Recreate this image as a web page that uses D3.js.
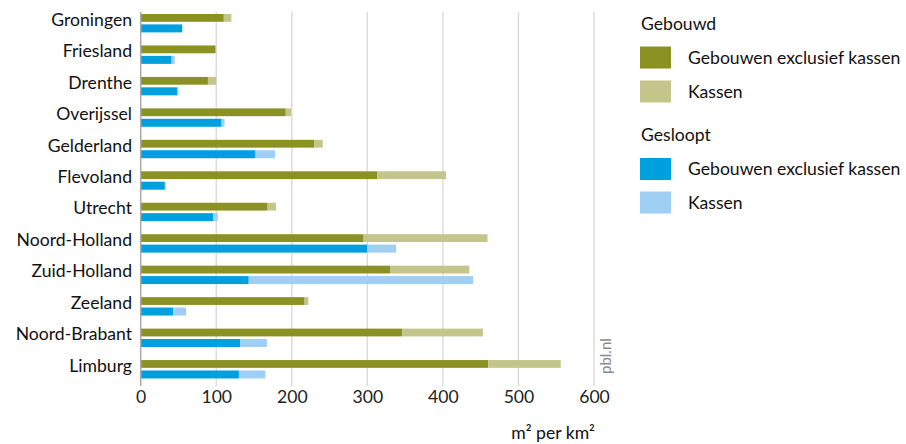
<!DOCTYPE html>
<html>
<head>
<meta charset="utf-8">
<script src="https://cdn.jsdelivr.net/npm/d3@7.9.0/dist/d3.min.js"></script>
<style>
  body { margin: 0; background: #fff; }
  svg { font-family: Lato, "Open Sans", sans-serif; }
</style>
</head>
<body>
<div id="chart"></div>
<script>
const provinces = ["Groningen", "Friesland", "Drenthe", "Overijssel", "Gelderland", "Flevoland",
  "Utrecht", "Noord-Holland", "Zuid-Holland", "Zeeland", "Noord-Brabant", "Limburg"];

// gebouwd (m2 per km2)
const builtExcl   = [110, 99, 89, 192, 230, 313, 168, 295, 330, 217, 346, 460];
const builtKassen = [10, 0, 11, 7, 11, 91, 11, 164, 105, 5, 107, 96];
// gesloopt
const demoExcl    = [55, 41, 48, 107, 152, 32, 96, 300, 143, 43, 132, 130];
const demoKassen  = [0, 4, 2, 4, 26, 1, 6, 38, 297, 17, 35, 35];

const xTicks = [0, 100, 200, 300, 400, 500, 600];

const colors = {
  builtExcl: "#8c9124",
  builtKassen: "#c4c58a",
  demoExcl: "#00a0df",
  demoKassen: "#9fcff3"
};

const fontSize = 17.6;

const width = 906, height = 444;
const svg = d3.select("#chart").append("svg")
  .attr("width", width)
  .attr("height", height);

const x = d3.scaleLinear().domain([0, 600]).range([140.7, 594]);
const y = d3.scaleBand().domain(provinces).range([14, 14 + 12 * 31.46]).padding(0);

const plotTop = 12, plotBottom = 386;

// gridlines
svg.append("g").selectAll("line")
  .data(xTicks.slice(1))
  .join("line")
  .attr("x1", d => x(d)).attr("x2", d => x(d))
  .attr("y1", plotTop).attr("y2", plotBottom)
  .attr("stroke", "#dadada")
  .attr("stroke-width", 1.4);

// tick labels
const xAxis = svg.append("g")
  .attr("transform", `translate(0,${plotBottom})`)
  .call(d3.axisBottom(x).tickValues(xTicks).tickSize(0).tickPadding(5));
xAxis.select(".domain").remove();
xAxis.selectAll("text")
  .attr("font-family", "Lato, 'Open Sans', sans-serif")
  .attr("font-size", fontSize)
  .attr("fill", "#222");

const rows = provinces.map((p, i) => ({
  name: p,
  be: builtExcl[i], bk: builtKassen[i],
  de: demoExcl[i], dk: demoKassen[i]
}));

const barH1 = 7.8, barH2 = 8, gap2 = 10.4;

const g = svg.append("g");
// gebouwd
g.selectAll(".be").data(rows).join("rect")
  .attr("x", x(0)).attr("y", d => y(d.name))
  .attr("width", d => x(d.be) - x(0)).attr("height", barH1)
  .attr("fill", colors.builtExcl);
g.selectAll(".bk").data(rows).join("rect")
  .attr("x", d => x(d.be)).attr("y", d => y(d.name))
  .attr("width", d => x(d.be + d.bk) - x(d.be)).attr("height", barH1)
  .attr("fill", colors.builtKassen);
// gesloopt
g.selectAll(".de").data(rows).join("rect")
  .attr("x", x(0)).attr("y", d => y(d.name) + gap2)
  .attr("width", d => x(d.de) - x(0)).attr("height", barH2)
  .attr("fill", colors.demoExcl);
g.selectAll(".dk").data(rows).join("rect")
  .attr("x", d => x(d.de)).attr("y", d => y(d.name) + gap2)
  .attr("width", d => x(d.de + d.dk) - x(d.de)).attr("height", barH2)
  .attr("fill", colors.demoKassen);

// y axis line
svg.append("line")
  .attr("x1", x(0)).attr("x2", x(0))
  .attr("y1", plotTop).attr("y2", plotBottom)
  .attr("stroke", "#a8a8a8")
  .attr("stroke-width", 1.5);

// province labels
svg.append("g").selectAll("text")
  .data(provinces)
  .join("text")
  .attr("x", 132)
  .attr("y", d => y(d) + 5.5)
  .attr("dy", "0.35em")
  .attr("text-anchor", "end")
  .attr("font-size", fontSize)
  .attr("fill", "#111")
  .text(d => d);

// axis title
svg.append("text")
  .attr("x", 595).attr("y", 433)
  .attr("dy", "0.35em")
  .attr("text-anchor", "end")
  .attr("font-size", fontSize)
  .attr("fill", "#111")
  .text("m² per km²");

// pbl.nl
svg.append("text")
  .attr("transform", "translate(611,374) rotate(-90)")
  .attr("font-size", 15)
  .attr("fill", "#8a8a8a")
  .text("pbl.nl");

// legend
const legend = [
  { type: "head", label: "Gebouwd", y: 24 },
  { type: "item", label: "Gebouwen exclusief kassen", color: colors.builtExcl, y: 57.5 },
  { type: "item", label: "Kassen", color: colors.builtKassen, y: 91.5 },
  { type: "head", label: "Gesloopt", y: 135 },
  { type: "item", label: "Gebouwen exclusief kassen", color: colors.demoExcl, y: 169 },
  { type: "item", label: "Kassen", color: colors.demoKassen, y: 202.5 }
];

const lg = svg.append("g");
legend.forEach(d => {
  if (d.type === "head") {
    lg.append("text")
      .attr("x", 641).attr("y", d.y)
      .attr("dy", "0.35em")
      .attr("font-size", fontSize)
      .attr("fill", "#111")
      .text(d.label);
  } else {
    lg.append("rect")
      .attr("x", 640).attr("y", d.y - 11)
      .attr("width", 31).attr("height", 22)
      .attr("fill", d.color);
    lg.append("text")
      .attr("x", 688).attr("y", d.y)
      .attr("dy", "0.35em")
      .attr("font-size", fontSize)
      .attr("fill", "#111")
      .text(d.label);
  }
});
</script>
</body>
</html>
